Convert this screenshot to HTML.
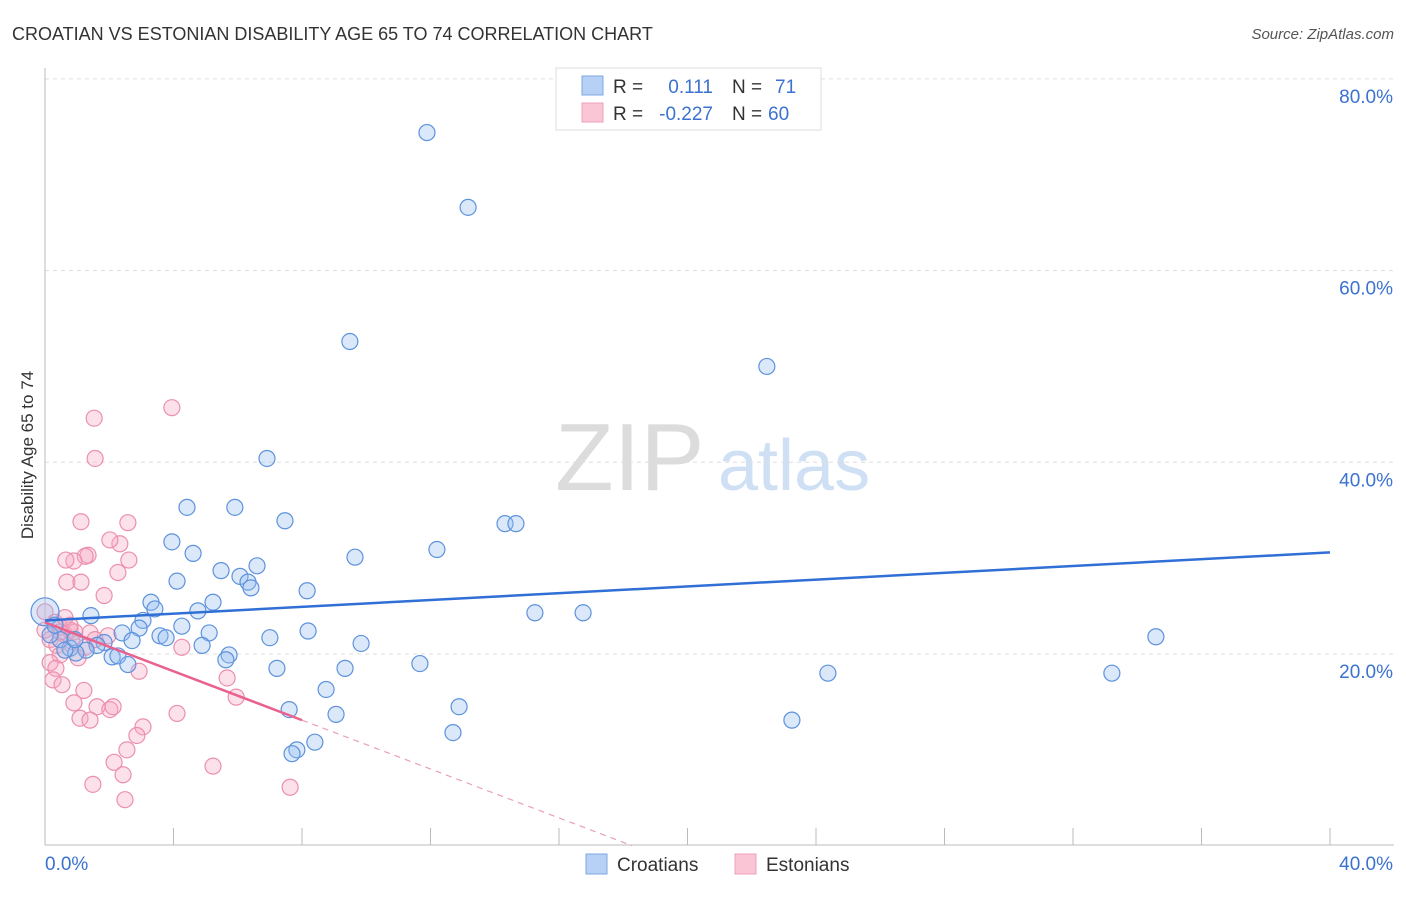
<!DOCTYPE html>
<html><head><meta charset="utf-8"><style>
body{margin:0;background:#fff;font-family:"Liberation Sans",sans-serif;}
svg text{font-family:"Liberation Sans",sans-serif;}
</style></head><body>
<svg id="chart" width="1406" height="892" viewBox="0 0 1406 892" xmlns="http://www.w3.org/2000/svg">
<text x="12" y="40" font-size="18" fill="#333">CROATIAN VS ESTONIAN DISABILITY AGE 65 TO 74 CORRELATION CHART</text>
<text x="1394" y="39" font-size="15" fill="#555" text-anchor="end" font-style="italic">Source: ZipAtlas.com</text>
<g>
<text x="555" y="490" font-size="96" fill="#dcdcdc" font-family="Liberation Serif,serif">ZIP</text>
<text x="718" y="490" font-size="72" fill="#cfe0f5">atlas</text>
</g>
<g id="grid"></g>
<g id="axes"></g>
<g id="pts"></g>
<g id="lines"></g>
<text transform="translate(33,455) rotate(-90)" font-size="17" fill="#333" text-anchor="middle">Disability Age 65 to 74</text>
<g>
<rect x="556" y="68" width="265" height="62" fill="#fff" stroke="#ddd"/>
<rect x="582" y="76" width="21" height="19" fill="#b6d1f5" stroke="#7ea8e0"/>
<rect x="582" y="103" width="21" height="19" fill="#fac6d6" stroke="#eda0b8"/>
<text x="613" y="93" font-size="19" fill="#333">R =</text>
<text x="713" y="93" font-size="19" fill="#3b72d0" text-anchor="end">0.111</text>
<text x="732" y="93" font-size="19" fill="#333">N =</text>
<text x="775" y="93" font-size="19" fill="#3b72d0">71</text>
<text x="613" y="120" font-size="19" fill="#333">R =</text>
<text x="713" y="120" font-size="19" fill="#3b72d0" text-anchor="end">-0.227</text>
<text x="732" y="120" font-size="19" fill="#333">N =</text>
<text x="768" y="120" font-size="19" fill="#3b72d0">60</text>
</g>
<g>
<rect x="586" y="854" width="21" height="20" fill="#b6d1f5" stroke="#7ea8e0"/>
<text x="617" y="871" font-size="19" fill="#333">Croatians</text>
<rect x="735" y="854" width="21" height="20" fill="#fac6d6" stroke="#eda0b8"/>
<text x="766" y="871" font-size="19" fill="#333">Estonians</text>
</g>
</svg>
<script>
const xTicks=[0,4,8,12,16,20,24,28,32,36,40];
const yTicks=[20,40,60,80];
const croX=[11.89,13.17,9.49,22.47,6.91,4.42,5.91,7.47,14.32,14.66,3.95,12.20,4.61,9.65,6.60,5.48,6.07,4.11,6.32,6.41,8.16,3.30,3.42,5.23,4.76,15.25,16.75,1.43,3.05,4.26,2.93,2.40,5.11,3.58,3.77,8.19,34.58,7.00,2.71,1.84,1.62,4.89,9.84,0.78,1.28,0.96,2.09,2.27,5.73,5.63,2.58,7.22,9.34,11.67,24.37,33.21,8.75,12.89,7.60,9.06,23.25,12.70,8.40,7.84,7.69,0,0.47,0.16,0.62,0.31,0.93];
const croY=[74.4,66.6,52.6,50.0,40.4,35.3,35.3,33.9,33.6,33.6,31.7,30.9,30.5,30.1,29.2,28.7,28.1,27.6,27.5,26.9,26.6,25.4,24.7,25.4,24.5,24.3,24.3,24.0,23.5,22.9,22.7,22.2,22.2,21.9,21.7,22.4,21.8,21.7,21.4,21.2,20.9,20.9,21.1,20.6,20.4,20.1,19.7,19.8,19.9,19.4,18.9,18.5,18.5,19.0,18.0,18.0,16.3,14.5,14.2,13.7,13.1,11.8,10.8,10.0,9.6,24.4,21.5,22.0,20.4,23.0,21.5];
const estX=[3.95,1.53,1.56,1.12,2.58,2.33,2.02,1.34,1.25,0.90,0.65,2.61,2.27,0.68,1.12,1.84,0,0.31,0.47,0.78,0.62,0.93,0.16,0.37,0.84,1.40,1.96,1.25,0.47,1.03,0.16,0.34,2.93,0.25,5.67,0.53,4.26,1.21,5.95,0.90,1.62,2.02,2.12,4.11,1.09,1.40,3.05,2.86,2.55,2.15,5.23,2.43,1.49,7.63,2.49,0.47,0.78,1.56,0.62,0];
const estY=[45.7,44.6,40.4,33.8,33.7,31.5,31.9,30.3,30.2,29.7,29.8,29.8,28.5,27.5,27.5,26.1,24.4,23.3,22.8,22.5,22.0,22.3,21.5,20.9,21.3,22.2,21.9,20.7,19.9,19.6,19.1,18.5,18.2,17.3,17.5,16.8,20.7,16.2,15.5,14.9,14.5,14.2,14.5,13.8,13.3,13.1,12.4,11.5,10.0,8.7,8.3,7.4,6.4,6.1,4.8,22.3,23.0,21.5,23.8,22.5];
const croTrend=[23.5,30.6];
const estTrend=[23.3,13.1];
const estTrendEnd=8;
const NS='http://www.w3.org/2000/svg';
const X=v=>45+v*32.125;
const Y=v=>654-(v-20)*9.585;
function mk(parent,tag,attrs){const e=document.createElementNS(NS,tag);for(const k in attrs)e.setAttribute(k,attrs[k]);document.getElementById(parent).appendChild(e);return e;}
yTicks.forEach(t=>{
 const l=mk('grid','line',{x1:45,x2:1394,y1:Y(t),y2:Y(t),stroke:'#ddd','stroke-dasharray':'4,4'});
 
 
 const tx=mk('grid','text',{x:1393,y:Y(t)+24,'font-size':19,fill:'#3b72d0','text-anchor':'end'});
 tx.textContent=t.toFixed(1)+'%';
 
 
});
mk('axes','line',{x1:45,x2:45,y1:68,y2:845,stroke:'#bbb'});
mk('axes','line',{x1:45,x2:1394,y1:845,y2:845,stroke:'#bbb'});
xTicks.forEach(t=>{
 const l=mk('axes','line',{x1:X(t),x2:X(t),y1:828,y2:845,stroke:'#bbb'});
 
 
});
[[0,'0.0%','start',45],[40,'40.0%','end',1393]].forEach(a=>{
 const tx=mk('axes','text',{x:a[3],y:870,'font-size':19,fill:'#3b72d0','text-anchor':a[2]});
 tx.textContent=a[1];
 
 
});
estX.forEach((v,i)=>{
 const c=mk('pts','circle',{cx:X(v),cy:Y(estY[i]),r:8,fill:'rgba(245,170,195,0.35)',stroke:'#ec8fae','stroke-width':1.2});
 
 
});
croX.forEach((v,i)=>{
 const c=mk('pts','circle',{cx:X(v),cy:Y(croY[i]),r:(i===65?14:8),fill:'rgba(150,190,240,0.35)',stroke:'#5d92dc','stroke-width':1.2});
 
 
});
const b=mk('lines','line',{x1:X(0),y1:Y(croTrend[0]),x2:X(40),y2:Y(croTrend[1]),stroke:'#2f6fd6','stroke-width':2.5});


const slope=(estTrend[1]-estTrend[0])/estTrendEnd;
const p=mk('lines','line',{x1:X(0),y1:Y(estTrend[0]),x2:X(estTrendEnd),y2:Y(estTrend[1]),stroke:'#e8618f','stroke-width':2.5});


const xe=estTrendEnd+(0-estTrend[1])/slope*-1*-1;
const xEnd=(0-estTrend[0])/slope;
const d=mk('lines','line',{x1:X(estTrendEnd),y1:Y(estTrend[1]),x2:X(xEnd),y2:Y(0),stroke:'#e8a0b8','stroke-width':1.2,'stroke-dasharray':'6,5'});


</script>
</body></html>
